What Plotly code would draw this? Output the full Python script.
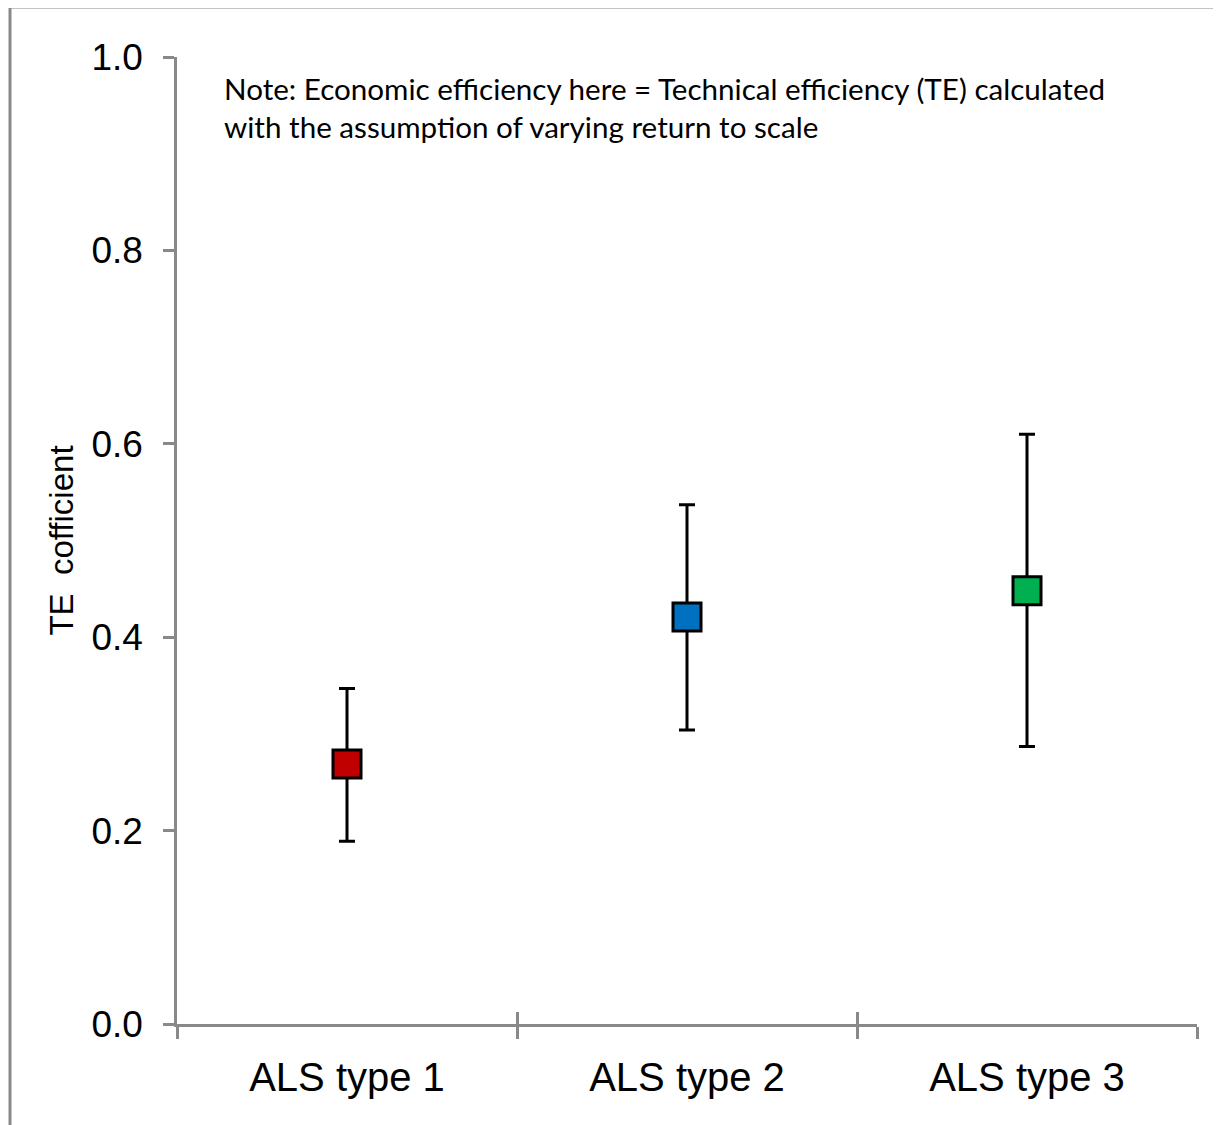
import plotly.graph_objects as go

categories = ["ALS type 1", "ALS type 2", "ALS type 3"]
means = [0.269, 0.421, 0.448]
upper = [0.347, 0.537, 0.610]
lower = [0.189, 0.304, 0.287]
colors = ["#C00000", "#0070C0", "#00B050"]
y_ticks = [0.0, 0.2, 0.4, 0.6, 0.8, 1.0]
y_tick_labels = ["0.0", "0.2", "0.4", "0.6", "0.8", "1.0"]
note_text = ("Note: Economic efficiency here = Technical efficiency (TE) calculated<br>"
             "with the assumption of varying return to scale")

# page body has an 8px default margin; figure sized to fit the window
OFF = 8
W, H = 1213, 1117
L = 177 - OFF
T = 57 - OFF
R = W - (1197 - OFF)
B = H - (1024 - OFF)
AXIS_COLOR = "#898989"

err_plus = [u - m for u, m in zip(upper, means)]
err_minus = [m - l for m, l in zip(means, lower)]

fig = go.Figure()
fig.add_trace(go.Scatter(
    x=categories, y=means, mode="markers",
    marker=dict(symbol="square", size=28, color=colors,
                line=dict(color="black", width=3)),
    error_y=dict(type="data", symmetric=False, array=err_plus, arrayminus=err_minus,
                 color="black", thickness=3, width=8),
    showlegend=False, hoverinfo="skip",
))
# invisible trace on overlay axis to carry the inner half of crossing x ticks
fig.add_trace(go.Scatter(x=categories, y=means, xaxis="x2", mode="markers",
                         marker=dict(opacity=0), showlegend=False, hoverinfo="skip"))

axis_font = dict(family="Liberation Sans, Arial, sans-serif", color="black")

pw = W - L - R
ph = H - T - B

fig.update_layout(
    width=W, height=H,
    margin=dict(l=L, r=R, t=T, b=B),
    paper_bgcolor="white", plot_bgcolor="white",
    xaxis=dict(type="category", range=[-0.5, 2.5], tickson="boundaries",
               ticks="outside", ticklen=12, tickwidth=2.5, tickcolor=AXIS_COLOR,
               showline=True, linecolor=AXIS_COLOR, linewidth=2.5,
               showgrid=False, zeroline=False,
               tickfont=dict(size=40, **axis_font), ticklabelstandoff=16),
    xaxis2=dict(type="category", range=[-0.5, 2.5], tickson="boundaries",
                overlaying="x", side="bottom", anchor="y",
                ticks="inside", ticklen=12, tickwidth=2.5, tickcolor=AXIS_COLOR,
                showticklabels=False, showline=False, showgrid=False, zeroline=False),
    yaxis=dict(range=[0, 1], tickvals=y_ticks, ticktext=y_tick_labels,
               ticks="outside", ticklen=11, tickwidth=2.5, tickcolor=AXIS_COLOR,
               showline=True, linecolor=AXIS_COLOR, linewidth=2.5,
               showgrid=False, zeroline=False,
               tickfont=dict(size=37, **axis_font), ticklabelstandoff=13,
               title=dict(text="TE\u00a0 cofficient", font=dict(size=33, **axis_font),
                          standoff=8)),
    annotations=[dict(
        text=note_text, xref="paper", yref="paper",
        x=(222 - OFF - L) / pw, y=1 - (69 - OFF - T) / ph,
        xanchor="left", yanchor="top", align="left", showarrow=False,
        font=dict(family="Lato, Carlito, Calibri, sans-serif", size=29.6, color="black"),
    )],
    shapes=[dict(type="rect", xref="paper", yref="paper", layer="below",
                 x0=(10 - OFF - L) / pw, x1=(1240 - L) / pw,
                 y0=1 - (1140 - T) / ph, y1=1 - (7 - OFF - T) / ph,
                 line=dict(color=AXIS_COLOR, width=3))],
)

fig.write_html("out.html")
